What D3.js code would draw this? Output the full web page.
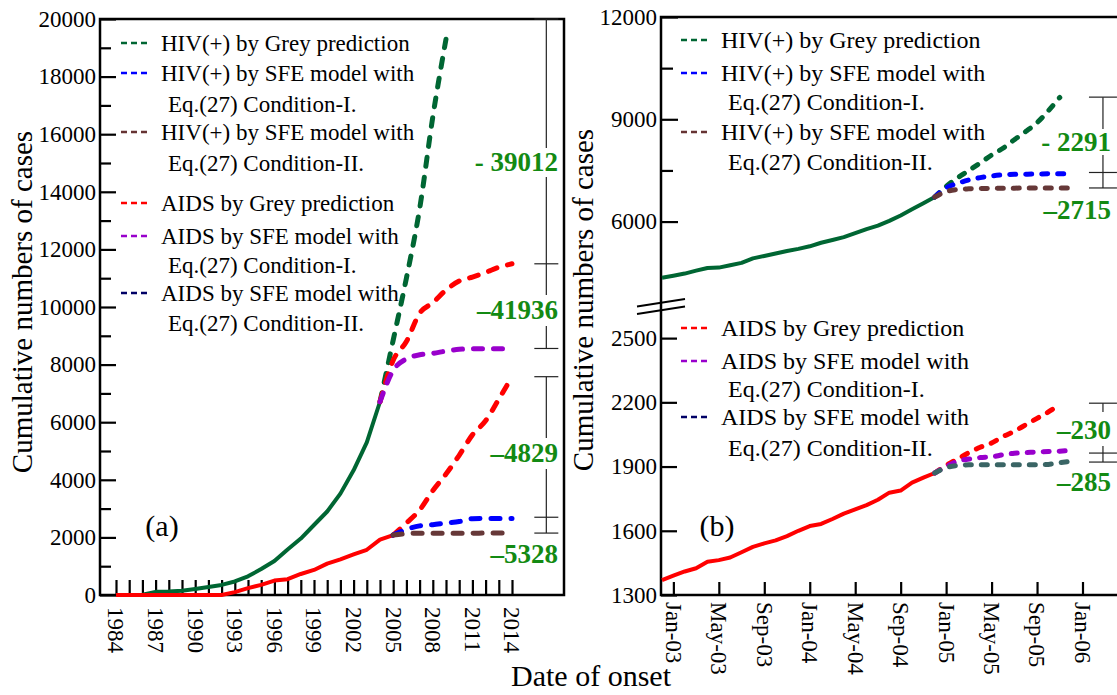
<!DOCTYPE html>
<html>
<head>
<meta charset="utf-8">
<script src="https://cdn.jsdelivr.net/npm/d3@7"></script>
<style>
  body { margin: 0; background: #fff; }
  svg text { font-family: "Liberation Serif", "Times New Roman", Times, serif; }
</style>
</head>
<body>
<svg id="chart" width="1117" height="695"></svg>
<script>
// ---------------- Panel (a): yearly cumulative cases ----------------
const yearsObs = d3.range(1984, 2006);          // 1984 .. 2005
const hivObs = [0, 0, 10, 110, 120, 150, 210, 280, 350, 470, 650, 900, 1180, 1580,
                1960, 2430, 2900, 3520, 4330, 5300, 6710];          // 1984 .. 2004
const aidsObs = [0, 0, 0, 0, 0, 0, 0, 0, 0, 100, 240, 350, 500, 550, 730, 870,
                 1090, 1240, 1410, 1570, 1920, 2080];                // 1984 .. 2005

const yearsFromHiv = d3.range(2004, 2015);       // projections branching from 2004
const hivGreyA = [6710, 8850, 11000, 13400, 16600, 19300];          // 2004 .. 2009
const hivBranchRed = [6710, 8150, 8800, 9780, 10150, 10590, 10900, 11040, 11200, 11380, 11500];
const hivBranchPurple = [6710, 7800, 8200, 8340, 8390, 8470, 8530, 8550, 8550, 8550, 8550];

const yearsFromAids = d3.range(2005, 2015);      // projections branching from 2005
const aidsGreyA = [2080, 2500, 2950, 3620, 4200, 4850, 5560, 6050, 6800, 7580];
const aidsBranchBlue = [2080, 2280, 2400, 2440, 2500, 2550, 2650, 2660, 2660, 2660];
const aidsBranchBrown = [2080, 2130, 2145, 2145, 2145, 2145, 2145, 2150, 2150, 2150];

const yTicksA = d3.range(0, 20001, 2000);
const yMinorA = d3.range(1000, 20000, 2000);
const xTicksA = d3.range(1984, 2015);
const xLabelsA = d3.range(1984, 2015, 3);

// ---------------- Panel (b): monthly cumulative cases, Dec-02 .. Dec-05 ----------------
const monthsObs = d3.range(0, 25);               // 0 = Dec-02 ... 24 = Dec-04
const monthsSfe = d3.range(24, 37);              // Dec-04 .. Dec-05
const monthsGrey = d3.range(24, 36);             // Dec-04 .. Nov-05
const hivObsB = [4350, 4410, 4475, 4560, 4640, 4650, 4720, 4790, 4920, 4990, 5065, 5135, 5200,
                 5275, 5380, 5460, 5545, 5660, 5780, 5880, 6020, 6180, 6360, 6540, 6720];
const hivGreyB = [6720, 7030, 7280, 7500, 7720, 7950, 8150, 8400, 8640, 8900, 9250, 9640];
const hivSfe1B = [6720, 6990, 7120, 7220, 7290, 7340, 7370, 7385, 7390, 7395, 7400, 7400, 7400];
const hivSfe2B = [6720, 6880, 6940, 6960, 6970, 6975, 6980, 6980, 6985, 6985, 6985, 6985, 6985];
const aidsObsB = [1370, 1390, 1410, 1425, 1455, 1463, 1475, 1500, 1525, 1541, 1555, 1575, 1600,
                  1622, 1632, 1655, 1680, 1700, 1720, 1745, 1778, 1788, 1825, 1848, 1870];
const aidsGreyB = [1870, 1905, 1935, 1965, 1990, 2010, 2040, 2065, 2095, 2125, 2155, 2190];
const aidsSfe1B = [1870, 1900, 1925, 1935, 1942, 1945, 1955, 1962, 1965, 1968, 1970, 1972, 1975];
const aidsSfe2B = [1870, 1895, 1905, 1908, 1908, 1908, 1908, 1908, 1908, 1908, 1910, 1918, 1925];

const xTicksB = [1, 5, 9, 13, 17, 21, 25, 29, 33, 37];
const xLabelsB = ["Jan-03", "May-03", "Sep-03", "Jan-04", "May-04", "Sep-04",
                  "Jan-05", "May-05", "Sep-05", "Jan-06"];
const yTicksUpper = [6000, 9000, 12000];
const yMinorUpper = [7500, 10500];
const yTicksLower = [1300, 1600, 1900, 2200, 2500];

// ---------------- legend entries ----------------
const legendHiv = [
  { text: ["HIV(+) by Grey prediction"], color: "#006633" },
  { text: ["HIV(+) by SFE model with", "Eq.(27) Condition-I."], color: "#0000ff" },
  { text: ["HIV(+) by SFE model with", "Eq.(27) Condition-II."], color: "#663333" }
];
const legendAids = [
  { text: ["AIDS by Grey prediction"], color: "#ff0000" },
  { text: ["AIDS by SFE model with", "Eq.(27) Condition-I."], color: "#9900cc" },
  { text: ["AIDS by SFE model with", "Eq.(27) Condition-II."], color: "#000066" }
];

// ---------------- colours ----------------
const C = {
  green: "#006633", red: "#ff0000", blue: "#0000ff", brown: "#663838",
  purple: "#9900cc", teal: "#3a6565", note: "#138a13"
};

const svg = d3.select("#chart");

// ---------- helpers ----------
function drawSeries(g, xs, ys, x, y, color, dashed, dash) {
  const line = d3.line()
    .x((d, i) => x(xs[i]))
    .y(d => y(d))
    .curve(dashed ? d3.curveMonotoneX : d3.curveLinear);
  g.append("path")
    .datum(ys)
    .attr("d", line)
    .attr("fill", "none")
    .attr("stroke", color)
    .attr("stroke-width", dashed ? 5 : 4)
    .attr("stroke-dasharray", dashed ? dash : null)
    .attr("stroke-linecap", dashed ? "round" : "butt")
    .attr("stroke-linejoin", "round");
}

function styleAxis(g, size) {
  g.attr("font-family", null).attr("font-size", null);
  g.selectAll("text").style("font-size", size + "px").attr("fill", "#000");
  g.selectAll(".tick line").attr("stroke", "#000").attr("stroke-width", 2.2);
  g.select(".domain").remove();
}

function drawLegend(g, items, x0, rows, fontSize) {
  items.forEach((it, k) => {
    const r = rows[k];
    g.append("line")
      .attr("x1", x0).attr("x2", x0 + 27)
      .attr("y1", r[0]).attr("y2", r[0])
      .attr("stroke", it.color).attr("stroke-width", 2.5)
      .attr("stroke-dasharray", "6,4");
    it.text.forEach((t, j) => {
      g.append("text")
        .attr("x", x0 + 40 + (j ? 7 : 0))
        .attr("y", r[j])
        .attr("dy", "0.35em")
        .style("font-size", fontSize + "px")
        .text(t);
    });
  });
}

// dimension bar: vertical line with caps at top/bottom and a cross at mid
function drawDimension(g, px, yTop, yMid, yBot, half, gaps) {
  let segs = [[yTop, yBot]];
  gaps.forEach(([a, b]) => {
    segs = segs.flatMap(([s, e]) => {
      if (b <= s || a >= e) return [[s, e]];
      const out = [];
      if (a > s) out.push([s, a]);
      if (b < e) out.push([b, e]);
      return out;
    });
  });
  segs.forEach(([s, e]) => {
    g.append("line").attr("x1", px).attr("x2", px).attr("y1", s).attr("y2", e)
      .attr("stroke", "#222").attr("stroke-width", 1.2);
  });
  [yTop, yMid, yBot].forEach(yy => {
    g.append("line").attr("x1", px - half).attr("x2", px + half)
      .attr("y1", yy).attr("y2", yy)
      .attr("stroke", "#222").attr("stroke-width", 1.2);
  });
}

function note(g, x, y, text) {
  g.append("text")
    .attr("x", x).attr("y", y).attr("dy", "0.35em")
    .attr("text-anchor", "end")
    .attr("fill", C.note)
    .style("font-size", "27px")
    .style("font-weight", "bold")
    .text(text);
}

// =================== Panel (a) ===================
const A = { left: 100, right: 564, top: 19, bottom: 595 };
const xA = d3.scaleLinear().domain([1984, 2014]).range([116, 512]);
const yA = d3.scaleLinear().domain([0, 20000]).range([A.bottom, A.top]);

const gA = svg.append("g");

// y axis ticks (inward)
const gyA = gA.append("g").attr("transform", `translate(${A.left},0)`)
  .call(d3.axisLeft(yA).tickValues(yTicksA).tickFormat(d3.format("d"))
    .tickSize(-16).tickPadding(4));
styleAxis(gyA, 23);
const gyAm = gA.append("g").attr("transform", `translate(${A.left},0)`)
  .call(d3.axisLeft(yA).tickValues(yMinorA).tickFormat("").tickSize(-11));
styleAxis(gyAm, 23);

// x axis ticks (inward) with rotated labels every third year
const gxA = gA.append("g").attr("transform", `translate(0,${A.bottom})`)
  .call(d3.axisBottom(xA).tickValues(xTicksA)
    .tickFormat(d => xLabelsA.includes(d) ? String(d) : "")
    .tickSize(-15));
styleAxis(gxA, 23);
gxA.selectAll("text")
  .attr("transform", "rotate(90)")
  .attr("x", 12).attr("y", 0).attr("dy", "0.35em")
  .style("text-anchor", "start");

// frame
gA.append("path")
  .attr("d", `M${A.left},${A.top}H${A.right}V${A.bottom}H${A.left}Z`)
  .attr("fill", "none").attr("stroke", "#000").attr("stroke-width", 2.5);

// series
drawSeries(gA, yearsObs, hivObs, xA, yA, C.green, false);
drawSeries(gA, yearsObs, aidsObs, xA, yA, C.red, false);
const dashA = "9,11";
drawSeries(gA, yearsFromHiv, hivGreyA, xA, yA, C.green, true, dashA);
drawSeries(gA, yearsFromHiv, hivBranchRed, xA, yA, C.red, true, dashA);
drawSeries(gA, yearsFromHiv, hivBranchPurple, xA, yA, C.purple, true, dashA);
drawSeries(gA, yearsFromAids, aidsGreyA, xA, yA, C.red, true, dashA);
drawSeries(gA, yearsFromAids, aidsBranchBlue, xA, yA, C.blue, true, dashA);
drawSeries(gA, yearsFromAids, aidsBranchBrown, xA, yA, C.brown, true, dashA);

// legend
drawLegend(gA, legendHiv.concat(legendAids), 121,
  [[43], [73, 104], [132, 163], [203], [236, 265], [293, 323]], 23);

// dimension bars and their notes
const dimXA = xA(2016.6);
drawDimension(gA, dimXA, yA(20000), yA(11500), yA(8560), 12, [[148, 177], [295, 326]]);
drawDimension(gA, dimXA, yA(7580), yA(2700), yA(2150), 12, [[438, 469]]);
note(gA, 558, 162, "- 39012");
note(gA, 558, 310, "\u201341936");
note(gA, 558, 453, "\u20134829");
note(gA, 558, 554, "\u20135328");

gA.append("text").attr("x", 162).attr("y", 525).attr("dy", "0.35em")
  .attr("text-anchor", "middle").style("font-size", "30px").text("(a)");

// y title
gA.append("text")
  .attr("transform", "translate(22,302) rotate(-90)")
  .attr("dy", "0.35em").attr("text-anchor", "middle")
  .style("font-size", "29px").text("Cumulative numbers of cases");

// =================== Panel (b) ===================
const B = { left: 661, right: 1117, top: 17, bottom: 595 };
const xB = d3.scaleLinear().domain([0, 37]).range([662, 1082.5]);
const yU = d3.scaleLinear().domain([3700, 12000]).range([300, B.top]);
const yL = d3.scaleLinear().domain([1300, 2650]).range([B.bottom, 306]);

const gB = svg.append("g");

const gyU = gB.append("g").attr("transform", `translate(${B.left},0)`)
  .call(d3.axisLeft(yU).tickValues(yTicksUpper).tickFormat(d3.format("d"))
    .tickSize(-17).tickPadding(4));
styleAxis(gyU, 23);
const gyUm = gB.append("g").attr("transform", `translate(${B.left},0)`)
  .call(d3.axisLeft(yU).tickValues(yMinorUpper).tickFormat("").tickSize(-12));
styleAxis(gyUm, 23);
const gyL = gB.append("g").attr("transform", `translate(${B.left},0)`)
  .call(d3.axisLeft(yL).tickValues(yTicksLower).tickFormat(d3.format("d"))
    .tickSize(-16).tickPadding(4));
styleAxis(gyL, 23);

const gxB = gB.append("g").attr("transform", `translate(0,${B.bottom})`)
  .call(d3.axisBottom(xB).tickValues(xTicksB)
    .tickFormat((d, i) => xLabelsB[i]).tickSize(-13));
styleAxis(gxB, 23);
gxB.selectAll("text")
  .attr("transform", "rotate(90)")
  .attr("x", 7).attr("y", 0).attr("dy", "0.35em")
  .style("text-anchor", "start");

// frame: left axis, top and bottom lines
gB.append("path")
  .attr("d", `M${B.right},${B.top}H${B.left}V${B.bottom}H${B.right}`)
  .attr("fill", "none").attr("stroke", "#000").attr("stroke-width", 2.5);

// axis break marks
[0, 7.5].forEach(off => {
  gB.append("line")
    .attr("x1", 637).attr("y1", 306.5 + off)
    .attr("x2", 685).attr("y2", 299 + off)
    .attr("stroke", "#000").attr("stroke-width", 2);
});

const dashB = "6,10";
drawSeries(gB, monthsObs, hivObsB, xB, yU, C.green, false);
drawSeries(gB, monthsGrey, hivGreyB, xB, yU, C.green, true, dashB);
drawSeries(gB, monthsSfe, hivSfe1B, xB, yU, C.blue, true, dashB);
drawSeries(gB, monthsSfe, hivSfe2B, xB, yU, C.brown, true, dashB);

drawSeries(gB, monthsObs, aidsObsB, xB, yL, C.red, false);
drawSeries(gB, monthsGrey, aidsGreyB, xB, yL, C.red, true, dashB);
drawSeries(gB, monthsSfe, aidsSfe1B, xB, yL, C.purple, true, dashB);
drawSeries(gB, monthsSfe, aidsSfe2B, xB, yL, C.teal, true, dashB);

drawLegend(gB, legendHiv, 681, [[40], [73, 102], [132, 162]], 24);
drawLegend(gB, legendAids, 681, [[328], [361, 389], [417, 448]], 24);

const dimXB = xB(38.8);
drawDimension(gB, dimXB, yU(9650), yU(7440), yU(6986), 14, [[129, 155]]);
drawDimension(gB, dimXB, yL(2196), yL(1963), yL(1921), 14, [[412, 446]]);
note(gB, 1111, 142, "- 2291");
note(gB, 1111, 210, "\u20132715");
note(gB, 1111, 430, "\u2013230");
note(gB, 1111, 482, "\u2013285");

gB.append("text").attr("x", 717).attr("y", 525).attr("dy", "0.35em")
  .attr("text-anchor", "middle").style("font-size", "30px").text("(b)");

gB.append("text")
  .attr("transform", "translate(583,300) rotate(-90)")
  .attr("dy", "0.35em").attr("text-anchor", "middle")
  .style("font-size", "29px").text("Cumulative numbers of cases");

// shared x title
svg.append("text")
  .attr("x", 591).attr("y", 686)
  .attr("text-anchor", "middle")
  .style("font-size", "30px").text("Date of onset");
</script>
</body>
</html>
